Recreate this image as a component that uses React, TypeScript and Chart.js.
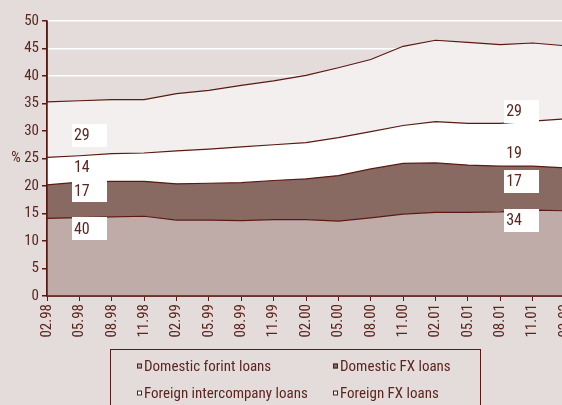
import React, { useEffect, useRef } from "react";
import { Chart, registerables } from "chart.js";

Chart.register(...registerables);

const categories = [
  "02.98", "05.98", "08.98", "11.98", "02.99", "05.99", "08.99", "11.99",
  "02.00", "05.00", "08.00", "11.00", "02.01", "05.01", "08.01", "11.01", "02.02",
];
const domesticForint = [14.1, 14.25, 14.4, 14.5, 13.8, 13.8, 13.7, 13.9, 13.9, 13.6, 14.2, 14.9, 15.2, 15.2, 15.3, 15.6, 15.5];
const domesticFX = [6.1, 6.45, 6.45, 6.35, 6.6, 6.7, 6.9, 7.1, 7.4, 8.3, 8.9, 9.2, 9.0, 8.6, 8.3, 8.0, 7.8];
const foreignIntercompany = [5.0, 4.8, 5.05, 5.15, 6.0, 6.2, 6.5, 6.5, 6.6, 6.9, 6.8, 6.9, 7.5, 7.6, 7.8, 8.2, 8.9];
const foreignFX = [10.1, 10.0, 9.8, 9.7, 10.4, 10.7, 11.2, 11.6, 12.2, 12.7, 13.1, 14.4, 14.8, 14.7, 14.3, 14.2, 13.3];

const seriesNames = [
  "Domestic forint loans",
  "Domestic FX loans",
  "Foreign intercompany loans",
  "Foreign FX loans",
];
// share labels (%) at the start and end of the period, bottom series first
const startShares = ["40", "17", "14", "29"];
const endShares = ["34", "17", "19", "29"];

const yMin = 0;
const yMax = 50;
const yStep = 5;

const FONT = '"Roboto Condensed", "DejaVu Sans Condensed", sans-serif';
const TEXT = "#5c2620";
const LINE = "#5a1a12";
const BG = "#e4dcdb";
const FILLS = ["#bfaca9", "#886a63", "#ffffff", "#f3efee"];

// annotation placement (category index position, value of box centre)
const startLabelPos = { x: 0.77, y: [12.2, 19.1, 23.45, 29.2] };
const endLabelPos = { x: 14.12, y: [13.8, 20.9, 26.0, 33.6] };

const shareLabels = {
  id: "shareLabels",
  afterDatasetsDraw(chart: any) {
    const { ctx, scales, chartArea } = chart;
    const xs = scales.x;
    const ys = scales.y;
    ctx.save();
    // axis lines on top of the filled areas
    ctx.strokeStyle = LINE;
    ctx.lineWidth = 1.5;
    ctx.beginPath();
    ctx.moveTo(chartArea.left, chartArea.top);
    ctx.lineTo(chartArea.left, chartArea.bottom);
    ctx.lineTo(chartArea.right, chartArea.bottom);
    ctx.stroke();

    ctx.font = `16px ${FONT}`;
    ctx.textBaseline = "middle";
    ctx.textAlign = "left";
    const draw = (texts: string[], pos: { x: number; y: number[] }) => {
      const left = xs.getPixelForValue(pos.x);
      texts.forEach((t, i) => {
        const cy = ys.getPixelForValue(pos.y[i]);
        if (i !== 2) {
          ctx.fillStyle = "#ffffff";
          ctx.fillRect(Math.round(left), Math.round(cy - 11.5), 35, 23);
        }
        ctx.fillStyle = TEXT;
        ctx.fillText(t, left + 2, cy + 1);
      });
    };
    draw(startShares, startLabelPos);
    draw(endShares, endLabelPos);
    ctx.restore();
  },
};

const boxLegend = {
  id: "boxLegend",
  afterDraw(chart: any) {
    const { ctx } = chart;
    ctx.save();
    ctx.strokeStyle = LINE;
    ctx.lineWidth = 1;
    ctx.strokeRect(110.5, 349.5, 370, 80);
    ctx.font = `15px ${FONT}`;
    ctx.textBaseline = "middle";
    ctx.textAlign = "left";
    const cols = [137, 333];
    const rows = [366, 393];
    seriesNames.forEach((name, i) => {
      const x = cols[i % 2];
      const y = rows[Math.floor(i / 2)];
      ctx.fillStyle = FILLS[i];
      ctx.fillRect(x, y - 2.5, 5, 5);
      ctx.strokeStyle = LINE;
      ctx.strokeRect(x + 0.5, y - 2.5 + 0.5, 4, 4);
      ctx.fillStyle = TEXT;
      ctx.fillText(name, x + 7, y + 1);
    });
    ctx.restore();
  },
};

export default function App() {
  const ref = useRef<HTMLCanvasElement | null>(null);
  useEffect(() => {
    if (!ref.current) return;
    const series = [domesticForint, domesticFX, foreignIntercompany, foreignFX];
    const chart = new Chart(ref.current, {
      type: "line",
      data: {
        labels: categories,
        datasets: series.map((d, i) => ({
          label: seriesNames[i],
          data: d,
          backgroundColor: FILLS[i],
          borderColor: LINE,
          borderWidth: 1.2,
          pointRadius: 0,
          tension: 0,
          fill: i === 0 ? "origin" : "-1",
        })),
      },
      options: {
        responsive: false,
        animation: false,
        devicePixelRatio: 1,
        layout: { padding: { top: 21, right: 14, left: 0, bottom: 0 } },
        plugins: { legend: { display: false }, tooltip: { enabled: false } },
        scales: {
          x: {
            type: "category",
            offset: false,
            afterFit: (s: any) => { s.height = 109; },
            grid: { drawOnChartArea: false, tickColor: LINE, tickLength: 5, lineWidth: 1 },
            border: { color: LINE, width: 1.5 },
            ticks: {
              color: TEXT,
              font: { family: FONT, size: 15 },
              maxRotation: 90,
              minRotation: 90,
              autoSkip: false,
              padding: 3,
            },
          },
          y: {
            stacked: true,
            min: yMin,
            max: yMax,
            afterFit: (s: any) => { s.width = 47; },
            grid: { color: "#ffffff", lineWidth: 1.5, tickColor: LINE, tickLength: 5 },
            border: { color: LINE, width: 1.5 },
            ticks: {
              stepSize: yStep,
              color: TEXT,
              font: { family: FONT, size: 15 },
              padding: 3,
              callback: (v: any) => (v === 25 ? "% 25" : String(v)),
            },
          },
        },
      },
      plugins: [shareLabels, boxLegend],
    } as any);
    return () => chart.destroy();
  }, []);
  return (
    <div
      style={{
        position: "fixed",
        left: 0,
        top: 0,
        width: 562,
        height: 405,
        overflow: "hidden",
        background: BG,
      }}
    >
      <canvas ref={ref} width={586} height={405} style={{ display: "block" }} />
    </div>
  );
}
